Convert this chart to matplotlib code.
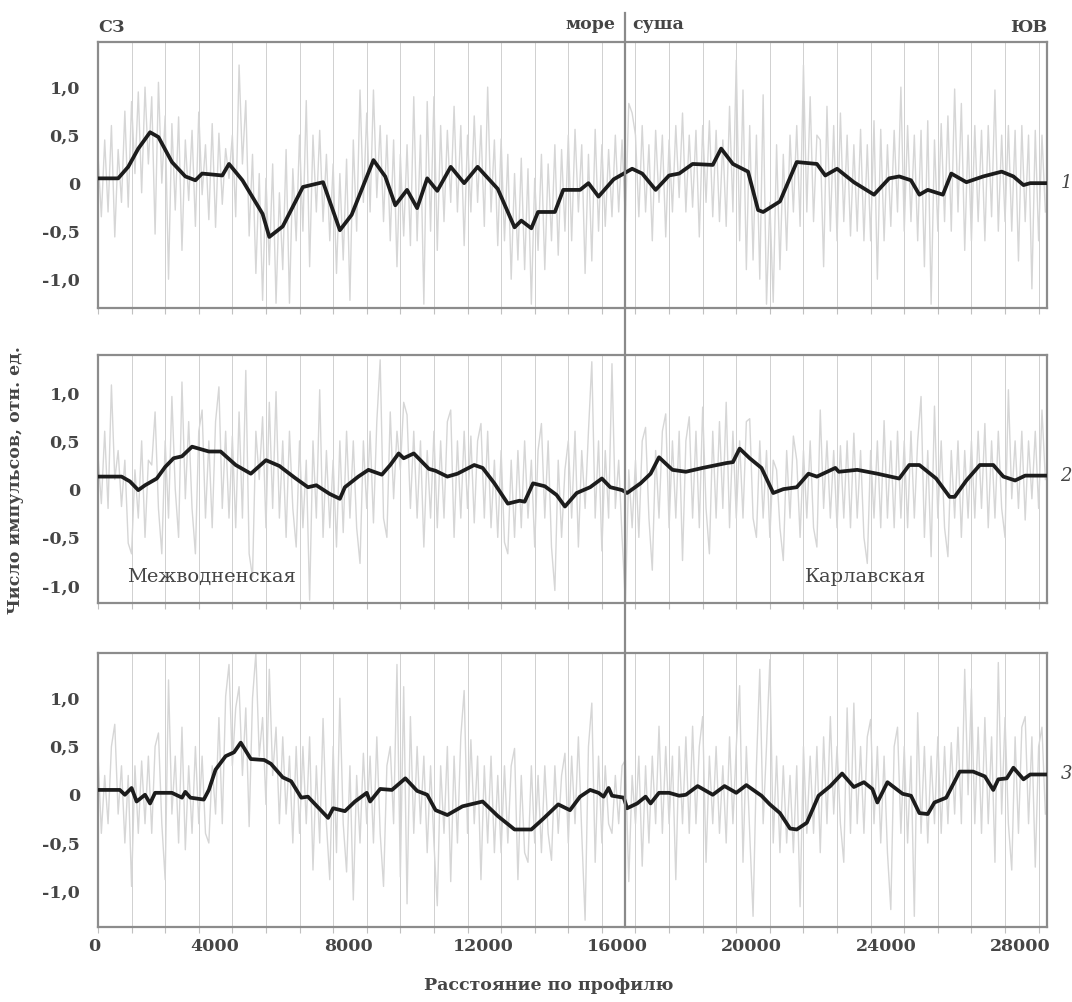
import numpy as np
import matplotlib.pyplot as plt
from matplotlib.transforms import ScaledTranslation

# grey (raw) series, one value every 100 m, 0 ... 28200
step = 100
g1 = [0.3, -0.35, 0.45, -0.3, 0.6, -0.56, 0.35, -0.2, 0.75, -0.25, 0.85, 0.1, 0.95, -0.1, 1.0, 0.2, 0.9, -0.53, 1.05, 0.0,
      0.7, -1.0, 0.62, -0.28, 0.69, -0.7, 0.45, -0.18, 0.55, -0.45, 0.74, -0.12, 0.4, -0.38, 0.62, -0.46, 0.52, -0.22, 0.36, 0.05,
      0.5, -0.35, 1.23, 0.2, 0.86, -0.55, 0.3, -0.94, 0.1, -1.22, 0.05, -0.85, 0.2, -1.25, -0.1, -0.9, 0.35, -1.25, 0.15, -0.6,
      0.5, -0.5, 0.86, -0.87, 0.5, -0.3, 0.55, -0.4, 0.3, -0.6, 0.2, -0.94, 0.1, -0.8, 0.25, -1.22, 0.45, -0.5, 0.97, -0.2,
      0.73, -0.3, 0.97, -0.15, 0.6, -0.4, 0.5, -0.6, 0.45, -0.87, 0.3, -0.55, 0.4, -0.65, 0.9, -0.6, 0.5, -1.26, 0.85, -0.5,
      0.9, -0.7, 0.6, -0.4, 0.55, -0.2, 0.8, -0.3, 0.6, -0.65, 0.5, -0.3, 0.7, -0.2, 0.6, -0.45, 1.0, -0.3, 0.45, -0.65,
      0.46, -0.6, 0.3, -1.0, 0.1, -0.8, 0.26, -0.9, 0.15, -1.26, 0.05, -0.7, 0.3, -0.9, 0.2, -0.6, 0.4, -0.75, 0.35, -0.5,
      0.5, -0.6, 0.56, -0.3, 0.4, -0.94, 0.3, -0.81, 0.56, -0.5, 0.4, -0.45, 0.35, -0.35, 0.5, -0.3, 0.45, -0.4, 0.83, 0.73,
      0.5, -0.35, 0.6, -0.3, 0.4, -0.6, 0.55, -0.2, 0.5, -0.56, 0.45, -0.3, 0.6, -0.15, 0.73, -0.3, 0.5, -0.25, 0.55, -0.56,
      0.6, -0.2, 0.65, -0.35, 0.55, -0.4, 0.45, -0.45, 0.8, -0.3, 1.28, -0.6, 0.97, -0.9, 0.6, -0.8, 0.5, -1.0, 0.92, -1.26,
      -0.2, -1.24, 0.4, -0.9, 0.3, -0.7, 0.5, -0.3, 0.6, -0.45, 1.23, -0.3, 0.9, -0.4, 0.5, 0.45, -0.87, 0.8, -0.5, 0.6,
      -0.6, 0.73, -0.4, 0.5, -0.55, 0.4, -0.5, 0.56, -0.6, 0.4, -0.6, 0.65, -1.0, 0.56, -0.6, 0.4, -0.45, 0.55, -0.3, 1.0,
      -0.5, 0.6, -0.4, 0.5, -0.6, 0.55, -0.87, 0.65, -1.26, 0.45, -0.5, 0.62, -0.4, 0.7, -0.5, 0.98, -0.3, 0.83, -0.7, 0.5,
      -0.6, 0.6, -0.4, 0.55, -0.6, 0.6, -0.35, 0.97, -0.5, 0.5, -0.4, 0.6, -0.5, 0.55, -0.81, 0.6, -0.4, 0.5, -1.1, 0.55,
      -0.6, 0.5, -0.3]
g2 = [0.35, -0.15, 0.6, -0.2, 1.08, 0.1, 0.4, -0.18, 0.3, -0.56, -0.67, 0.2, -0.3, 0.5, -0.5, 0.3, 0.25, 0.8, -0.2, -0.67,
      0.5, -0.3, 0.96, 0.0, -0.5, 1.11, -0.1, 0.7, -0.2, -0.67, 0.6, 0.82, -0.3, 0.5, -0.4, 0.7, 1.06, -0.2, 0.6, -0.3,
      0.55, -0.4, 0.8, -0.3, 1.23, -0.67, -0.91, 0.6, 0.1, 0.75, -0.4, 0.9, -0.2, 1.01, -0.3, 0.5, -0.5, 0.6, -0.2, -0.6,
      0.5, -0.4, 0.3, -1.15, 0.5, -0.3, 1.03, -0.5, 0.4, -0.4, 0.3, -0.6, 0.5, -0.45, 0.6, -0.3, 0.5, -0.4, -0.77, 0.5,
      -0.2, 0.6, -0.35, 0.7, 1.34, -0.3, -0.5, 0.8, -0.1, 0.6, 0.2, 0.9, 0.77, -0.2, 0.6, -0.3, 0.5, -0.6, 0.4, -0.3,
      0.6, -0.4, 0.5, -0.3, 0.7, 0.82, -0.5, 0.5, -0.3, 0.6, -0.2, 0.55, -0.35, 0.5, 0.68, -0.3, 0.6, -0.4, 0.3, -0.5,
      0.4, -0.55, -0.67, 0.3, -0.5, 0.4, -0.4, 0.5, -0.3, 0.3, -0.6, 0.4, 0.68, -0.3, 0.5, -0.6, -1.05, 0.3, -0.5, 0.2,
      0.5, -0.3, 0.6, -0.6, 0.4, -0.2, 0.6, 1.32, -0.3, 0.5, -0.64, 0.4, -0.3, 1.3, -0.2, 0.3, -0.5, -1.18, 0.2, -0.4,
      0.3, -0.5, 0.5, 0.64, -0.3, -0.84, 0.4, -0.3, 0.6, 0.78, -0.4, 0.5, -0.3, 0.6, -0.74, 0.5, 0.75, -0.3, 0.6, -0.4,
      0.85, -0.2, -0.67, 0.6, -0.3, 0.7, -0.2, 0.9, -0.4, 0.6, -0.3, 0.5, -0.3, 0.7, 0.73, -0.3, -0.5, 0.5, -0.3, 0.4,
      -0.5, 0.3, 0.2, -0.4, -0.74, 0.4, -0.3, 0.55, 0.3, -0.5, 0.4, -0.3, 0.5, -0.4, -0.6, 0.82, -0.2, 0.5, -0.3, 0.4,
      -0.4, 0.45, -0.3, 0.5, -0.4, 0.58, -0.3, 0.4, -0.5, -0.77, 0.4, -0.3, 0.5, -0.4, 0.71, -0.3, 0.5, -0.4, 0.6, -0.3,
      0.5, -0.4, 0.6, -0.3, 0.5, 0.96, -0.5, 0.4, -0.7, 0.86, -0.3, 0.5, -0.4, -0.7, 0.4, -0.3, 0.5, -0.5, 0.4, -0.3,
      0.5, -0.3, 0.6, -0.2, 0.68, -0.4, 0.5, -0.3, 0.6, -0.2, -0.5, 1.03, -0.1, 0.5, -0.2, 0.6, -0.32, 0.5, -0.1, 0.6,
      -0.2, 0.82, 0.1]
g3 = [0.43, -0.4, 0.2, -0.3, 0.5, 0.73, -0.2, 0.3, -0.5, 0.2, -0.95, 0.3, -0.4, 0.35, -0.3, 0.4, -0.4, 0.5, 0.64, -0.3,
      -0.88, 1.19, -0.2, 0.4, -0.5, 0.7, -0.57, 0.3, -0.4, 0.5, -0.3, 0.4, -0.4, -0.5, 0.3, -0.2, 0.8, -0.3, 1.02, 1.35,
      0.3, 0.9, 1.12, 0.2, 0.9, -0.33, 1.0, 1.47, 0.4, 0.8, -0.1, 1.3, 0.2, 0.7, -0.3, 0.6, -0.2, 0.4, -0.5, 0.5,
      -0.4, 0.5, -0.3, 0.6, -0.78, 0.3, -0.5, 0.79, -0.3, -0.88, 0.5, -0.6, 1.0, -0.3, -0.8, 0.3, -1.09, 0.2, -0.5, 0.43,
      -0.3, 0.4, -0.5, 0.6, -0.4, -0.95, 0.3, 0.5, -0.3, 1.35, -0.85, 1.12, -1.13, 0.81, -0.4, 0.5, -0.3, 0.4, -0.6, 0.3,
      -0.5, -1.15, 0.3, -0.4, 0.5, -0.9, 0.4, -0.5, 0.6, 1.08, -0.4, 0.57, -0.3, 0.4, -0.88, 0.3, -0.5, 0.4, -0.6, 0.2,
      -0.6, 0.3, -0.5, 0.3, 0.48, -0.88, 0.2, -0.6, -0.7, 0.3, -0.5, 0.2, -0.6, 0.3, -0.4, -0.68, 0.3, -0.4, 0.2, 0.43,
      -0.5, 0.4, -0.3, 0.6, -0.4, -1.3, 0.5, 0.95, -0.7, 0.4, -0.5, 0.3, -0.3, -0.4, 0.2, -0.3, 0.3, 0.36, -0.9, 0.2,
      -0.3, 0.4, -0.74, 0.3, -0.5, 0.4, -0.3, 0.71, -0.4, 0.5, -0.3, 0.4, -0.88, 0.5, -0.3, 0.6, -0.4, 0.71, -0.3, 0.5,
      0.81, -0.7, 0.4, -0.3, 0.5, -0.4, 0.3, -0.5, 0.6, -0.3, 0.5, 1.13, -0.7, 0.5, -0.4, -1.26, 0.3, 1.3, -0.3, 0.5,
      1.40, -0.5, 0.4, -0.6, 0.3, -0.5, 0.2, -0.6, 0.3, -1.16, 0.5, -0.4, 0.4, -0.4, 0.5, -0.6, 0.6, -0.3, 0.81, -0.2,
      0.5, -0.3, -0.7, 0.9, -0.4, 0.95, -0.3, 0.5, -0.4, 0.6, 0.78, -0.3, 0.5, -0.5, 0.4, -0.6, -1.19, 0.5, 0.7, -0.4,
      0.5, -0.5, 0.4, -1.26, 0.85, -0.4, 0.5, -0.5, 0.4, -0.3, 0.6, -0.4, 0.5, -0.3, 0.54, -0.2, 0.7, -0.3, 1.30, 0.0,
      1.1, -0.3, 0.7, -0.4, 0.8, -0.3, 0.6, -0.7, 1.37, -0.2, 0.8, -0.3, -0.78, 0.6, -0.4, 0.7, 0.81, -0.3, 0.6, -0.75,
      0.5, 0.7, -0.2]

# smoothed (black) curves
bx1 = [0, 600, 900, 1200, 1550, 1800, 2200, 2600, 2900, 3100, 3700, 3900, 4300, 4900, 5100, 5500, 6100, 6700,
       7200, 7550, 8200, 8550, 8850, 9200, 9500, 9800, 10100, 10500, 10900, 11300, 11900, 12400, 12600, 12900,
       13100, 13600, 13850, 14350, 14600, 14900, 15350, 15900, 16200, 16600, 17000, 17300, 17700, 18300, 18550,
       18900, 19350, 19650, 19800, 20300, 20800, 21400, 21650, 22000, 22500, 23100, 23550, 23850, 24200, 24450,
       24700, 25150, 25400, 25850, 26350, 26900, 27250, 27550, 27750, 28250]
by1 = [0.05, 0.05, 0.17, 0.36, 0.53, 0.48, 0.22, 0.07, 0.03, 0.10, 0.08, 0.20, 0.03, -0.32, -0.56, -0.45, -0.04, 0.01,
       -0.49, -0.33, 0.24, 0.07, -0.23, -0.07, -0.26, 0.05, -0.08, 0.17, 0.0, 0.17, -0.06, -0.46, -0.39, -0.47,
       -0.30, -0.30, -0.07, -0.07, 0.0, -0.14, 0.04, 0.15, 0.10, -0.07, 0.08, 0.10, 0.20, 0.19, 0.36,
       0.20, 0.12, -0.28, -0.30, -0.19, 0.22, 0.20, 0.08, 0.15, 0.01, -0.12, 0.05, 0.07, 0.03, -0.12,
       -0.07, -0.12, 0.10, 0.01, 0.07, 0.12, 0.07, -0.02, 0.0, 0.0]
bx2 = [0, 700, 950, 1200, 1400, 1750, 2000, 2250, 2500, 2800, 3300, 3650, 4100, 4550, 5000, 5400, 5850, 6250,
       6500, 6900, 7200, 7350, 7750, 8050, 8450, 8700, 8950, 9100, 9400, 9850, 10050, 10400, 10700, 11200, 11450,
       11800, 12200, 12550, 12700, 12950, 13300, 13650, 13900, 14250, 14650, 15000, 15250, 15600, 15750, 16150,
       16450, 16700, 17100, 17500, 18000, 18700, 18900, 19100, 19400, 19750, 20100, 20400, 20800, 21150, 21400,
       21950, 22050, 22600, 23200, 23850, 24150, 24450, 24950, 25350, 25500, 25850, 26250, 26650, 26950, 27300,
       27600, 28250]
by2 = [0.13, 0.13, 0.08, -0.01, 0.04, 0.11, 0.23, 0.32, 0.34, 0.44, 0.39, 0.39, 0.25, 0.16, 0.30, 0.24, 0.12, 0.02,
       0.04, -0.05, -0.10, 0.02, 0.13, 0.20, 0.15, 0.25, 0.37, 0.32, 0.37, 0.21, 0.19, 0.13, 0.16, 0.25, 0.22,
       0.06, -0.15, -0.12, -0.13, 0.06, 0.03, -0.06, -0.18, -0.04, 0.02, 0.11, 0.02, -0.01, -0.04, 0.06,
       0.16, 0.33, 0.20, 0.18, 0.22, 0.27, 0.28, 0.42, 0.32, 0.22, -0.04, 0.0, 0.02, 0.16, 0.13,
       0.22, 0.18, 0.20, 0.16, 0.11, 0.25, 0.25, 0.11, -0.08, -0.08, 0.09, 0.25, 0.25, 0.13, 0.09,
       0.14, 0.14]
bx3 = [0, 650, 800, 1000, 1150, 1400, 1550, 1700, 2200, 2500, 2600, 2750, 3150, 3300, 3500, 3800, 4050, 4250,
       4550, 4950, 5150, 5500, 5750, 6050, 6250, 6850, 7000, 7350, 7650, 8000, 8100, 8400, 8750, 9150, 9500, 9800,
       10050, 10400, 10850, 11450, 11900, 12400, 12900, 13250, 13700, 14050, 14350, 14650, 14900, 15050, 15200,
       15300, 15650, 15750, 16050, 16300, 16450, 16700, 17000, 17300, 17500, 17850, 18300, 18650, 19000, 19300,
       19750, 20000, 20300, 20600, 20800, 21100, 21450, 21800, 22150, 22500, 22800, 23050, 23200, 23500, 23950,
       24200, 24450, 24700, 24900, 25250, 25650, 26050, 26400, 26650, 26800, 27050, 27250, 27550, 27750, 28200]
by3 = [0.05, 0.05, 0.0, 0.07, -0.07, 0.0, -0.09, 0.02, 0.02, -0.03, 0.03, -0.03, -0.05, 0.05, 0.26, 0.40, 0.44, 0.54,
       0.37, 0.36, 0.32, 0.18, 0.14, -0.03, -0.02, -0.24, -0.14, -0.17, -0.07, 0.02, -0.07, 0.06, 0.05, 0.17, 0.04, 0.0,
       -0.16, -0.21, -0.12, -0.07, -0.22, -0.36, -0.36, -0.25, -0.10, -0.16, -0.02, 0.05, 0.02, -0.02, 0.07,
       -0.01, -0.03, -0.14, -0.09, -0.02, -0.09, 0.02, 0.02, -0.01, 0.0, 0.09, 0.0, 0.09, 0.02, 0.10,
       -0.01, -0.10, -0.19, -0.35, -0.36, -0.29, -0.01, 0.09, 0.22, 0.08, 0.13, 0.06, -0.08, 0.13, 0.01,
       -0.01, -0.19, -0.20, -0.08, -0.03, 0.24, 0.24, 0.19, 0.05, 0.16, 0.17, 0.28, 0.16, 0.21, 0.21]

sea_land = 15700
xticks = [0, 4000, 8000, 12000, 16000, 20000, 24000, 28000]
yticks = [-1.0, -0.5, 0, 0.5, 1.0]
ytick_labels = ['-1,0', '-0,5', '0', '0,5', '1,0']

txt = '#454545'
font = 'DejaVu Serif'

fig = plt.figure(figsize=(10.72, 10.02), dpi=100)

# [left, bottom, width, height], ylim, extension of divider above panel
panels = [
    ([0.0914, 0.6926, 0.8853, 0.2655], (-1.30, 1.47), 1.109, g1, bx1, by1, '1'),
    ([0.0914, 0.3982, 0.8853, 0.2475], (-1.18, 1.39), 1.19, g2, bx2, by2, '2'),
    ([0.0914, 0.0749, 0.8853, 0.2735], (-1.37, 1.47), 1.183, g3, bx3, by3, '3'),
]

axes = []
for rect, ylim, ext, grey, bx, by, num in panels:
    ax = fig.add_axes(rect)
    xg = np.arange(len(grey)) * step
    ax.plot(xg, grey, color='#d6d6d6', lw=1.0, zorder=2)
    ax.plot(bx, by, color='#1c1c1c', lw=2.7, zorder=4, solid_joinstyle='round')
    ax.axvline(sea_land, ymin=0, ymax=ext, color='#8a8a8a', lw=1.6, clip_on=False, zorder=5)
    ax.set_xlim(0, 28250)
    ax.set_ylim(*ylim)
    ax.set_xticks(xticks)
    ax.set_xticks(np.arange(1000, 28001, 1000), minor=True)
    ax.grid(axis='x', which='both', color='#d0d0d0', lw=0.7, zorder=1)
    ax.set_axisbelow(True)
    ax.tick_params(axis='x', which='both', direction='out', length=4, color='#c0c0c0', width=0.8,
                   labelsize=12.5, labelcolor=txt, pad=4)
    ax.set_yticks(yticks)
    ax.set_yticklabels(ytick_labels, fontfamily=font, fontweight='bold')
    ax.tick_params(axis='y', length=0, pad=13, labelsize=12.5, labelcolor=txt)
    for s in ax.spines.values():
        s.set_color('#8c8c8c')
        s.set_linewidth(1.6)
    ax.text(1.014, by[-1], num, transform=ax.get_yaxis_transform(), fontfamily=font,
            style='italic', fontsize=13, color=txt, va='center', ha='left')
    axes.append(ax)

ax1, ax2, ax3 = axes
ax1.set_xticklabels([])
ax2.set_xticklabels([])
ax3.set_xticklabels([str(v) for v in xticks], fontfamily=font, fontweight='bold')
for tick in ax3.xaxis.get_major_ticks():
    dx = -4 if tick.label1.get_text() == '0' else -18
    tick.label1.set_transform(tick.label1.get_transform() +
                              ScaledTranslation(dx / 100, 0, fig.dpi_scale_trans))

# direction labels above the top panel
ax1.text(0.0, 1.055, 'СЗ', transform=ax1.transAxes, fontfamily=font, fontweight='bold',
         fontsize=12.5, color=txt, ha='left', va='center')
ax1.text(1.0, 1.055, 'ЮВ', transform=ax1.transAxes, fontfamily=font, fontweight='bold',
         fontsize=12.5, color=txt, ha='right', va='center')
tr = ax1.get_xaxis_transform()
ax1.text(sea_land, 1.065, 'море', transform=tr + ScaledTranslation(-0.1, 0, fig.dpi_scale_trans),
         fontfamily=font, fontweight='bold', fontsize=12.5, color=txt, ha='right', va='center')
ax1.text(sea_land, 1.065, 'суша', transform=tr + ScaledTranslation(0.07, 0, fig.dpi_scale_trans),
         fontfamily=font, fontweight='bold', fontsize=12.5, color=txt, ha='left', va='center')

# structure names in the middle panel
ax2.text(0.031, 0.105, 'Межводненская', transform=ax2.transAxes, fontfamily=font,
         fontsize=14, color=txt, ha='left', va='center')
ax2.text(0.745, 0.105, 'Карлавская', transform=ax2.transAxes, fontfamily=font,
         fontsize=14, color=txt, ha='left', va='center')

fig.text(0.014, 1 - 480 / 1002, 'Число импульсов, отн. ед.', rotation=90, fontfamily=font,
         fontweight='bold', fontsize=12.5, color=txt, ha='center', va='center')
fig.text(0.512, 1 - 985 / 1002, 'Расстояние по профилю', fontfamily=font,
         fontweight='bold', fontsize=12.5, color=txt, ha='center', va='center')

fig.savefig('out.png', dpi=100)
